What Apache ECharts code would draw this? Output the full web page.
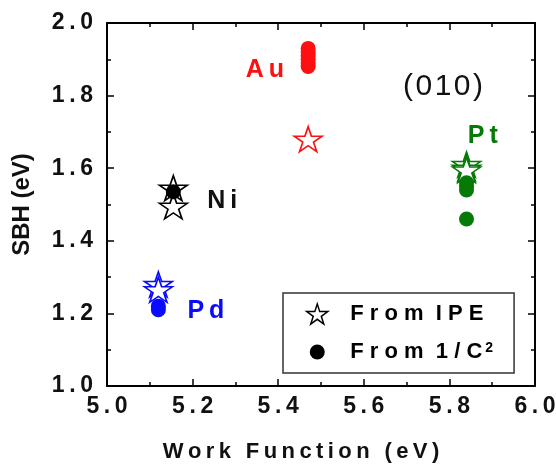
<!DOCTYPE html>
<html>
<head>
<meta charset="utf-8">
<script src="https://cdn.jsdelivr.net/npm/echarts@6/dist/echarts.min.js"></script>
<style>
  html, body { margin: 0; padding: 0; background: #fff; }
  #chart { width: 556px; height: 466px; }
</style>
</head>
<body>
<div id="chart"></div>
<script>
// ---- data ----
const metalNames = ['Au', 'Pt', 'Ni', 'Pd'];
const metalWorkFunction = [5.47, 5.84, 5.155, 5.12];
const ipeSBH = [
  [1.68],
  [1.61, 1.60, 1.595],
  [1.545, 1.495],
  [1.28, 1.265]
];
const cvSBH = [
  [1.93, 1.92, 1.91, 1.90, 1.89, 1.88],
  [1.56, 1.55, 1.54, 1.46],
  [1.535],
  [1.22, 1.21]
];
const annotText = ['Au', 'Pt', 'Ni', 'Pd', '(010)'];
const annotX = [5.369, 5.878, 5.269, 5.231, 5.785];
const annotY = [1.870, 1.689, 1.510, 1.207, 1.824];
const xTickLabels = ['5.0', '5.2', '5.4', '5.6', '5.8', '6.0'];
const yTickLabels = ['1.0', '1.2', '1.4', '1.6', '1.8', '2.0'];
const seriesNames = ['From IPE', 'From 1/C2'];

// ---- styles ----
const metalColors = ['#ff1010', '#067a06', '#000000', '#0a0aff'];
const annotColors = ['#ff1010', '#067a06', '#111111', '#0a0aff', '#111111'];
const FONT = "'Liberation Sans', Arial, sans-serif";
const THIN = '\u2009';
const HAIR = '\u200A';
const STAR = 'path://M50 0L61.2 34.5L97.6 34.5L68.2 55.9L79.4 90.5L50 69.1L20.6 90.5L31.8 55.9L2.4 34.5L38.8 34.5Z';
const LEGEND_DOT = 'path://M0 0M20 20M17.5 10A7.5 7.5 0 1 1 2.5 10A7.5 7.5 0 1 1 17.5 10Z';

function spaced(s, sep) { return s.split('').join(sep); }
function spacedWords(s, sep, wordSep) { return s.split(' ').map(w => w.split('').join(sep)).join(wordSep); }

const ipeData = [];
const cvData = [];
metalNames.forEach((m, i) => {
  ipeSBH[i].forEach(v => ipeData.push({
    value: [metalWorkFunction[i], v],
    itemStyle: { color: '#ffffff', borderColor: metalColors[i], borderWidth: 1.6, opacity: 1 }
  }));
  cvSBH[i].forEach(v => cvData.push({
    value: [metalWorkFunction[i], v],
    itemStyle: { color: metalColors[i], opacity: 1 }
  }));
});
const annotData = annotText.map((t, i) => ({
  name: t,
  value: [annotX[i], annotY[i]],
  label: i === 4
    ? { color: annotColors[i], fontSize: 30, fontWeight: 'normal', formatter: spaced(t, HAIR) }
    : { color: annotColors[i], fontSize: 25, fontWeight: 'bold', formatter: spaced(t, THIN) }
}));

const axisLine = { show: true, onZero: false, lineStyle: { color: '#000', width: 2 } };
const tick = { show: true, inside: true, length: 7, lineStyle: { color: '#000', width: 1.5 } };
const minor = { show: true, splitNumber: 2, length: 4, lineStyle: { color: '#000', width: 1.5 } };
const tickLabel = { fontFamily: FONT, fontSize: 23, fontWeight: 'bold', color: '#111' };

const chart = echarts.init(document.getElementById('chart'), null, { renderer: 'canvas' });
chart.setOption({
  animation: false,
  backgroundColor: '#fff',
  grid: { left: 107, top: 23, right: 21, bottom: 80, containLabel: false, outerBoundsMode: 'none' },
  xAxis: [
    {
      type: 'value', min: 5, max: 6, interval: 0.2, position: 'bottom',
      axisLine, axisTick: tick, minorTick: minor,
      splitLine: { show: false }, minorSplitLine: { show: false },
      axisLabel: Object.assign({ margin: 9,
        formatter: v => spaced(xTickLabels[Math.round((v - 5) / 0.2)], THIN) }, tickLabel),
      name: spaced('Work Function (eV)', THIN),
      nameLocation: 'middle', nameGap: 55,
      nameTextStyle: { fontFamily: FONT, fontSize: 22, fontWeight: 'bold', color: '#111', padding: [0, 40, 0, 0] }
    },
    {
      type: 'value', min: 5, max: 6, interval: 0.2, position: 'top',
      axisLine, axisTick: tick, minorTick: minor,
      splitLine: { show: false }, minorSplitLine: { show: false },
      axisLabel: { show: false }
    }
  ],
  yAxis: [
    {
      type: 'value', min: 1, max: 2, interval: 0.2, position: 'left',
      axisLine, axisTick: tick, minorTick: minor,
      splitLine: { show: false }, minorSplitLine: { show: false },
      axisLabel: Object.assign({ margin: 14,
        formatter: v => spaced(yTickLabels[Math.round((v - 1) / 0.2)], THIN) }, tickLabel),
      name: 'SBH (eV)',
      nameLocation: 'middle', nameGap: 73,
      nameTextStyle: { fontFamily: FONT, fontSize: 24, fontWeight: 'bold', color: '#111' }
    },
    {
      type: 'value', min: 1, max: 2, interval: 0.2, position: 'right',
      axisLine, axisTick: tick, minorTick: minor,
      splitLine: { show: false }, minorSplitLine: { show: false },
      axisLabel: { show: false }
    }
  ],
  legend: {
    orient: 'vertical', left: 283, top: 293,
    padding: [10, 21, 10, 23],
    itemWidth: 22, itemHeight: 20, itemGap: 16,
    borderColor: '#333', borderWidth: 1.5, backgroundColor: '#fff',
    selectedMode: false,
    data: [
      { name: seriesNames[0], icon: STAR, itemStyle: { color: '#fff', borderColor: '#000', borderWidth: 1.5, opacity: 1 } },
      { name: seriesNames[1], icon: LEGEND_DOT, itemStyle: { color: '#000', opacity: 1 } }
    ],
    formatter: name => name === seriesNames[1]
      ? spacedWords('From 1/C', ' ', '  ') + '{sup|2}'
      : spacedWords(name, ' ', '  '),
    textStyle: {
      fontFamily: FONT, fontSize: 22, fontWeight: 'bold', color: '#000',
      padding: [0, 0, 0, 17],
      rich: { sup: { fontFamily: FONT, fontSize: 14, fontWeight: 'bold', color: '#000', verticalAlign: 'top', padding: [0, 0, 0, 3] } }
    }
  },
  series: [
    {
      name: seriesNames[0], type: 'scatter', symbol: STAR, symbolSize: [28, 25],
      itemStyle: { opacity: 1 },
      data: ipeData, z: 2, emphasis: { disabled: true }
    },
    {
      name: seriesNames[1], type: 'scatter', symbol: 'circle', symbolSize: 15,
      itemStyle: { opacity: 1 },
      data: cvData, z: 3, emphasis: { disabled: true }
    },
    {
      name: 'annotations', type: 'scatter', symbolSize: 1,
      itemStyle: { color: 'transparent', opacity: 1 },
      label: { show: true, position: 'inside', fontFamily: FONT, opacity: 1 },
      data: annotData, z: 4, silent: true, emphasis: { disabled: true }
    }
  ]
});
</script>
</body>
</html>
